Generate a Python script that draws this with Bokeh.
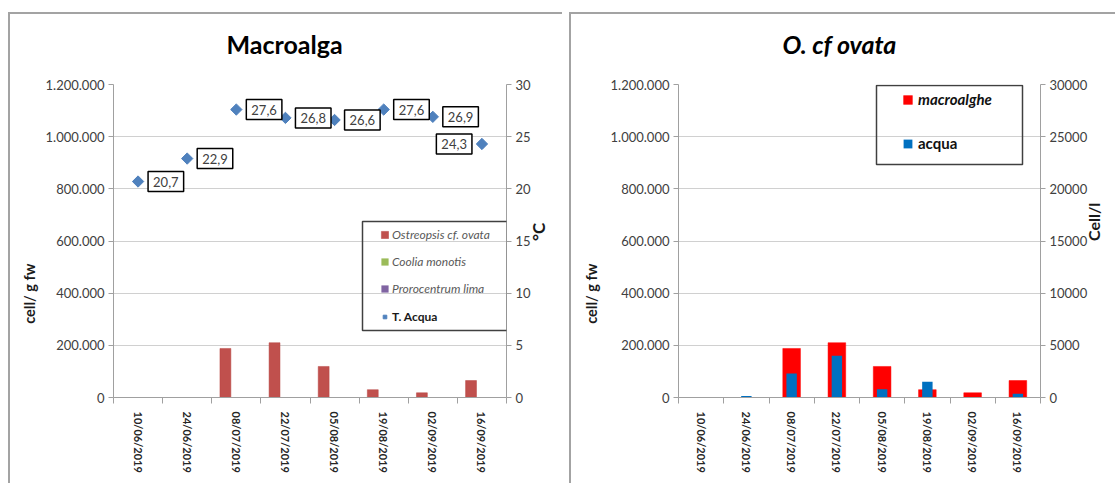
import math
from bokeh.plotting import figure
from bokeh.models import (Range1d, LinearAxis, FixedTicker, CustomJSTickFormatter, Label,
                          Legend, LegendItem, BoxAnnotation, ColumnDataSource)
from bokeh.layouts import row
from bokeh.transform import dodge
from bokeh.embed import file_html
from bokeh.resources import INLINE

# ---------------- data ----------------
dates = ["10/06/2019", "24/06/2019", "08/07/2019", "22/07/2019",
         "05/08/2019", "19/08/2019", "02/09/2019", "16/09/2019"]
ostreopsis = [0, 0, 188000, 210000, 119000, 30000, 18000, 65000]
coolia = [0, 0, 0, 0, 0, 0, 0, 0]
prorocentrum = [0, 0, 0, 0, 0, 0, 0, 0]
t_acqua = [20.7, 22.9, 27.6, 26.8, 26.6, 27.6, 26.9, 24.3]
macroalghe = [0, 0, 188000, 210000, 119000, 30000, 18000, 65000]
acqua = [0, 150, 2300, 4000, 800, 1500, 0, 350]

cell_ticks = [0, 200000, 400000, 600000, 800000, 1000000, 1200000]
temp_ticks = [0, 5, 10, 15, 20, 25, 30]
cell_l_ticks = [0, 5000, 10000, 15000, 20000, 25000, 30000]

FONT = "Lato"
AXIS_COL = "#a0a0a0"
GRID_COL = "#d0d0d0"
TICK_TXT = "#404040"
PANEL_LINE = "#a3a3a3"
NBSP = "\u00a0"

n = len(dates)
xs = [i + 0.5 for i in range(n)]

dot_fmt = CustomJSTickFormatter(code=r"""
return Math.round(tick).toString().replace(/\B(?=(\d{3})+(?!\d))/g, ".");
""")

# panel frame lines (top + left), drawn behind the transparent canvas
PANEL_BG = (f"linear-gradient({PANEL_LINE},{PANEL_LINE}) 0px 12px / 100% 2px no-repeat, "
            f"linear-gradient({PANEL_LINE},{PANEL_LINE}) 0px 12px / 2px 100% no-repeat")


def style_axis_label(ax, text, standoff, size="17px", orient=None):
    ax.axis_label = text
    ax.axis_label_standoff = standoff
    ax.axis_label_text_font = FONT
    ax.axis_label_text_font_size = size
    ax.axis_label_text_font_style = "bold"
    ax.axis_label_text_color = "#1a1a1a"
    if orient is not None and "axis_label_orientation" in ax.properties():
        ax.axis_label_orientation = orient


def base_fig(width, mb_left, mb_right, margin, title, title_style, title_offset):
    p = figure(width=width, height=483, x_range=Range1d(0, n),
               y_range=Range1d(0, cell_ticks[-1]),
               output_backend="svg", toolbar_location=None,
               min_border_left=mb_left, min_border_right=mb_right,
               min_border_top=84, min_border_bottom=86)
    p.margin = margin
    p.outline_line_color = None
    p.border_fill_color = None
    p.background_fill_color = "white"
    p.styles = {"background": PANEL_BG}

    p.title.text = title
    p.title.align = "left"
    p.title.offset = title_offset
    p.title.standoff = 52
    p.title.text_font = FONT
    p.title.text_font_size = "25px"
    p.title.text_font_style = title_style
    p.title.text_color = "black"

    xa = p.xaxis[0]
    xa.ticker = FixedTicker(ticks=xs, minor_ticks=list(range(n + 1)))
    xa.formatter = CustomJSTickFormatter(args=dict(labels=dates),
                                         code="return labels[Math.floor(tick)] || '';")
    xa.major_label_orientation = "vertical"
    xa.major_tick_line_color = None
    xa.major_tick_out = 0
    xa.major_tick_in = 0
    xa.minor_tick_out = 6
    xa.minor_tick_in = 0
    xa.minor_tick_line_color = AXIS_COL
    xa.axis_line_color = AXIS_COL
    xa.major_label_standoff = 8
    xa.major_label_text_font = FONT
    xa.major_label_text_font_size = "11px"
    xa.major_label_text_font_style = "bold"
    xa.major_label_text_color = "#262626"

    ya = p.yaxis[0]
    ya.ticker = FixedTicker(ticks=cell_ticks)
    ya.formatter = dot_fmt
    ya.major_tick_out = 5
    ya.major_tick_in = 0
    ya.minor_tick_line_color = None
    ya.axis_line_color = AXIS_COL
    ya.major_tick_line_color = AXIS_COL
    ya.major_label_standoff = 4
    ya.major_label_text_font = FONT
    ya.major_label_text_font_size = "13px"
    ya.major_label_text_color = TICK_TXT

    p.xgrid.visible = False
    p.ygrid[0].ticker = FixedTicker(ticks=cell_ticks)
    p.ygrid.grid_line_color = GRID_COL
    return p


def right_axis(p, rname, ticks):
    ra = LinearAxis(y_range_name=rname, ticker=FixedTicker(ticks=ticks),
                    formatter=CustomJSTickFormatter(code="return tick.toFixed(0);"))
    ra.major_tick_out = 5
    ra.major_tick_in = 0
    ra.minor_tick_line_color = None
    ra.axis_line_color = AXIS_COL
    ra.major_tick_line_color = AXIS_COL
    ra.major_label_standoff = 4
    ra.major_label_text_font = FONT
    ra.major_label_text_font_size = "13px"
    ra.major_label_text_color = TICK_TXT
    p.add_layout(ra, "right")
    return ra


def legend(items, loc, style, color, size, glyph, standoff, spacing=7):
    return Legend(items=items, location=loc, border_line_color=None,
                  background_fill_alpha=0, padding=0, margin=0, spacing=spacing,
                  label_height=20, glyph_width=glyph, glyph_height=glyph,
                  label_standoff=standoff, label_text_font=FONT,
                  label_text_font_size=size, label_text_font_style=style,
                  label_text_color=color)


def legend_box(p, l, r, t, b):
    p.add_layout(BoxAnnotation(left=l, right=r, top=t, bottom=b,
                               left_units="screen", right_units="screen",
                               top_units="screen", bottom_units="screen",
                               fill_alpha=0, line_color="#404040", line_alpha=1,
                               line_width=1.5, line_dash="solid", level="overlay"))


# ---------------- left chart: Macroalga ----------------
p1 = base_fig(554, 105, 56, (0, 0, 0, 8), "Macroalga", "bold", 113)
p1.extra_y_ranges = {"temp": Range1d(0, temp_ticks[-1])}
ra1 = right_axis(p1, "temp", temp_ticks)
style_axis_label(p1.yaxis[0], "cell/ g fw" + NBSP * 30, 5, size="14.5px")
style_axis_label(ra1, "°C", 5, orient=math.pi / 2)

src1 = ColumnDataSource(dict(x=xs, ostreopsis=ostreopsis, coolia=coolia,
                             prorocentrum=prorocentrum, temp=t_acqua))
bw = 0.222
r_ost = p1.vbar(x=dodge("x", -bw), top="ostreopsis", width=bw, source=src1,
                fill_color="#C0504D", line_color="#B84744", line_width=0.5)
r_coo = p1.vbar(x="x", top="coolia", width=bw, source=src1,
                fill_color="#9BBB59", line_color=None)
r_pro = p1.vbar(x=dodge("x", bw), top="prorocentrum", width=bw, source=src1,
                fill_color="#8064A2", line_color=None)
r_tmp = p1.scatter(x="x", y="temp", source=src1, y_range_name="temp",
                   marker="square", angle=math.pi / 4, size=8,
                   fill_color="#4F81BD", line_color="#4F81BD")

for i, (xi, t) in enumerate(zip(xs, t_acqua)):
    last = i == n - 1  # keep the last box inside the plot area
    p1.add_layout(Label(x=xi, y=t, y_range_name="temp",
                        text=f"{t:.1f}".replace(".", ","),
                        x_offset=-10 if last else 10,
                        text_align="right" if last else "left",
                        text_baseline="middle",
                        text_font=FONT, text_font_size="13px", text_color=TICK_TXT,
                        background_fill_color="white", border_line_color="black",
                        border_line_width=1.5, padding=5, level="overlay"))

legend_box(p1, 249, 394, 176, 67)
p1.add_layout(legend([LegendItem(label="Ostreopsis cf. ovata", renderers=[r_ost]),
                      LegendItem(label="Coolia monotis", renderers=[r_coo]),
                      LegendItem(label="Prorocentrum lima", renderers=[r_pro])],
                     (267, 99), "italic", "#595959", "12px", 9, 3))
p1.add_layout(legend([LegendItem(label="T. Acqua", renderers=[r_tmp])],
                     (267, 71), "bold", "#1a1a1a", "12px", 9, 3))

# ---------------- right chart: O. cf ovata ----------------
p2 = base_fig(546, 109, 69, (0, 0, 0, 0), "O. cf ovata", "bold italic", 104)
p2.extra_y_ranges = {"cell_l": Range1d(0, cell_l_ticks[-1])}
ra2 = right_axis(p2, "cell_l", cell_l_ticks)
style_axis_label(p2.yaxis[0], "cell/ g fw" + NBSP * 30, 8, size="14.5px")
style_axis_label(ra2, "Cell/l", 3, size="16px", orient=math.pi / 2)

src2 = ColumnDataSource(dict(x=xs, macroalghe=macroalghe, acqua=acqua))
r_mac = p2.vbar(x="x", top="macroalghe", width=0.39, source=src2,
                fill_color="#FF0000", line_color="#FF0000", line_width=0.5)
r_acq = p2.vbar(x="x", top="acqua", width=0.23, source=src2, y_range_name="cell_l",
                fill_color="#0070C0", line_color=None)

legend_box(p2, 198, 344, 312, 233)
p2.add_layout(legend([LegendItem(label="macroalghe", renderers=[r_mac])],
                     (224, 288), "bold italic", "#111111", "15px", 11, 5))
p2.add_layout(legend([LegendItem(label="acqua", renderers=[r_acq])],
                     (224, 244), "bold", "#111111", "15px", 11, 5))

layout = row(p1, p2, spacing=7)
open("out.html", "w").write(file_html(layout, INLINE))
